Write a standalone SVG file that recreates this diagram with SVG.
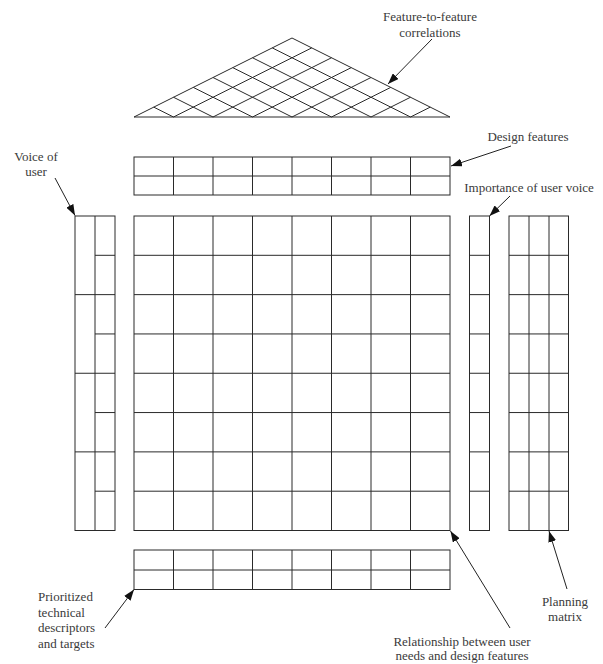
<svg xmlns="http://www.w3.org/2000/svg" width="603" height="664" viewBox="0 0 603 664">
<defs>
<style>
.g{fill:none;stroke:#2a2a2a;stroke-width:1}
.t{font-family:"Liberation Serif","Times New Roman",serif;font-size:13px;fill:#3a3a3a}
.c{stroke:#222;stroke-width:1;fill:none;marker-end:url(#ah)}
</style>
<marker id="ah" markerUnits="userSpaceOnUse" markerWidth="11" markerHeight="8" refX="11" refY="4" orient="auto">
<path d="M0,0 L11,4 L0,8 z" fill="#111"/>
</marker>
</defs>
<rect width="603" height="664" fill="#fff"/>

<g id="roof">
<path class="g" d="M134,117 L292,38 L450,117 Z"/>
<path class="g" d="M173.5,117 L311.75,47.875 M213,117 L331.5,57.75 M252.5,117 L351.25,67.625 M292,117 L371,77.5 M331.5,117 L390.75,87.375 M371,117 L410.5,97.25 M410.5,117 L430.25,107.125"/>
<path class="g" d="M173.5,117 L153.75,107.125 M213,117 L173.5,97.25 M252.5,117 L193.25,87.375 M292,117 L213,77.5 M331.5,117 L232.75,67.625 M371,117 L252.5,57.75 M410.5,117 L272.25,47.875"/>
<text class="t" x="430" y="21" text-anchor="middle">Feature-to-feature</text>
<text class="t" x="430" y="37" text-anchor="middle">correlations</text>
</g>

<g id="design-features">
<rect class="g" x="134" y="157" width="316" height="38"/>
<path class="g" d="M134,176 H450 M173.5,157 V195 M213,157 V195 M252.5,157 V195 M292,157 V195 M331.5,157 V195 M371,157 V195 M410.5,157 V195"/>
<text class="t" x="528" y="141" text-anchor="middle">Design features</text>
</g>

<g id="voice-of-user">
<rect class="g" x="75" y="216" width="40" height="314.5"/>
<path class="g" d="M95,216 V530.5 M75,294.63 H115 M75,373.25 H115 M75,451.88 H115 M95,255.31 H115 M95,333.94 H115 M95,412.56 H115 M95,491.19 H115"/>
<text class="t" x="36" y="161" text-anchor="middle">Voice of</text>
<text class="t" x="36" y="176" text-anchor="middle">user</text>
</g>

<g id="relationship-matrix">
<rect class="g" x="134" y="216" width="316" height="314.5"/>
<path class="g" d="M173.5,216 V530.5 M213,216 V530.5 M252.5,216 V530.5 M292,216 V530.5 M331.5,216 V530.5 M371,216 V530.5 M410.5,216 V530.5"/>
<path class="g" d="M134,255.31 H450 M134,294.63 H450 M134,333.94 H450 M134,373.25 H450 M134,412.56 H450 M134,451.88 H450 M134,491.19 H450"/>
<text class="t" x="462" y="645.5" text-anchor="middle">Relationship between user</text>
<text class="t" x="462" y="659.5" text-anchor="middle">needs and design features</text>
</g>

<g id="importance">
<rect class="g" x="469.5" y="216" width="20" height="314.5"/>
<path class="g" d="M469.5,255.31 H489.5 M469.5,294.63 H489.5 M469.5,333.94 H489.5 M469.5,373.25 H489.5 M469.5,412.56 H489.5 M469.5,451.88 H489.5 M469.5,491.19 H489.5"/>
<text class="t" x="529" y="192" text-anchor="middle">Importance of user voice</text>
</g>

<g id="planning-matrix">
<rect class="g" x="509" y="216" width="59.5" height="314.5"/>
<path class="g" d="M529,216 V530.5 M549,216 V530.5 M509,255.31 H568.5 M509,294.63 H568.5 M509,333.94 H568.5 M509,373.25 H568.5 M509,412.56 H568.5 M509,451.88 H568.5 M509,491.19 H568.5"/>
<text class="t" x="565" y="606" text-anchor="middle">Planning</text>
<text class="t" x="565" y="621" text-anchor="middle">matrix</text>
</g>

<g id="technical-targets">
<rect class="g" x="134" y="550" width="316" height="39.5"/>
<path class="g" d="M134,570 H450 M173.5,550 V589.5 M213,550 V589.5 M252.5,550 V589.5 M292,550 V589.5 M331.5,550 V589.5 M371,550 V589.5 M410.5,550 V589.5"/>
<text class="t" x="38" y="601">Prioritized</text>
<text class="t" x="38" y="616.5">technical</text>
<text class="t" x="38" y="632">descriptors</text>
<text class="t" x="38" y="647.5">and targets</text>
</g>

<g id="connectors">
<line class="c" x1="432" y1="39" x2="388" y2="84"/>
<line class="c" x1="511" y1="146" x2="451" y2="166"/>
<line class="c" x1="510" y1="196" x2="489.5" y2="216"/>
<line class="c" x1="55" y1="178" x2="75" y2="215.5"/>
<line class="c" x1="105" y1="628" x2="134" y2="589.5"/>
<line class="c" x1="510" y1="628" x2="450.5" y2="531"/>
<line class="c" x1="567" y1="589" x2="549" y2="531"/>
</g>
</svg>
